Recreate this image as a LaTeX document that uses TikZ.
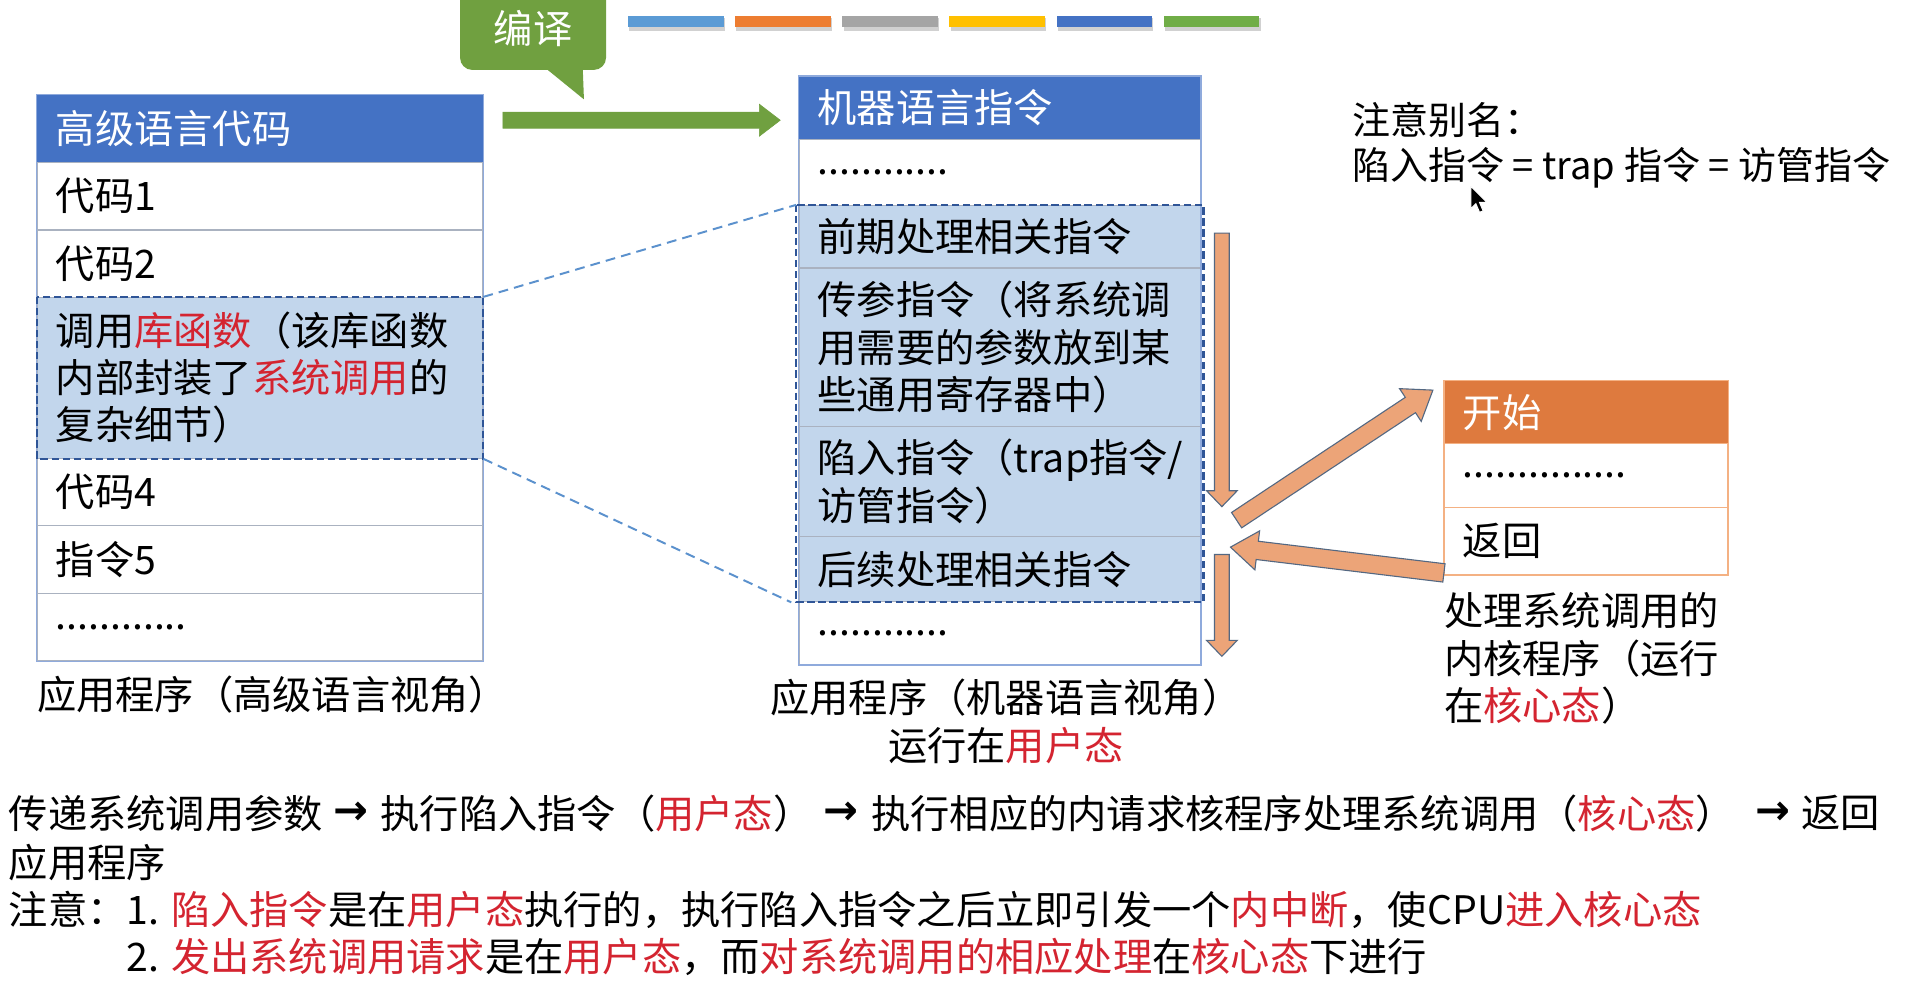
\documentclass[tikz,border=0pt]{standalone}
\usepackage{fontspec}
\setmainfont{Noto Sans CJK SC}
\newfontfamily\djv{DejaVu Sans}
\usetikzlibrary{calc}
\definecolor{hdrblue}{RGB}{68,114,196}
\definecolor{lblue}{RGB}{194,214,236}
\definecolor{dblue}{RGB}{47,85,151}
\definecolor{boxline}{RGB}{143,170,220}
\definecolor{sepline}{RGB}{170,178,192}
\definecolor{grn}{RGB}{112,160,64}
\definecolor{orh}{RGB}{222,122,62}
\definecolor{orline}{RGB}{244,177,131}
\definecolor{arrfill}{RGB}{236,164,120}
\definecolor{arrline}{RGB}{84,104,130}
\definecolor{redt}{RGB}{212,36,48}
\definecolor{lnk}{RGB}{91,145,205}
\definecolor{barA}{RGB}{91,155,213}
\definecolor{barB}{RGB}{237,125,49}
\definecolor{barC}{RGB}{165,165,165}
\definecolor{barD}{RGB}{255,192,0}
\definecolor{barE}{RGB}{68,114,196}
\definecolor{barF}{RGB}{112,173,71}
\newcommand\fs{\fontsize{32}{38.5}\selectfont}
\newcommand\fsb{\fontsize{31}{39}\selectfont}
\newcommand\rd[1]{\textcolor{redt}{#1}}
\newcommand\blkarrow[6]{%
  \path ($(#3)!#6!(#2)$) coordinate (bkh);
  \filldraw[#1] ($(#2)!#4!90:(#3)$) -- ($(bkh)!#4!90:(#3)$) -- ($(bkh)!#5!90:(#3)$) -- (#3)
     -- ($(bkh)!#5!-90:(#3)$) -- ($(bkh)!#4!-90:(#3)$) -- ($(#2)!#4!-90:(#3)$) -- cycle;}
\tikzset{
  cell/.style={rectangle, anchor=north west, draw=sepline, line width=1pt,
    inner xsep=15pt, inner ysep=0pt, align=left, font=\fs, text=black},
  hdr/.style={cell, fill=hdrblue, draw=hdrblue, text=white},
  ohdr/.style={cell, fill=orh, draw=orh, text=white},
  hl/.style={cell, fill=lblue},
  dashbox/.style={draw=dblue, line width=1.8pt, dash pattern=on 6pt off 3pt},
  link/.style={draw=lnk, line width=1.6pt, dash pattern=on 8pt off 5pt},
  txt/.style={inner sep=0pt, anchor=west, font=\fs, text=black},
  orarrow/.style={fill=arrfill, draw=arrline, line width=0.9pt},
  grarrow/.style={fill=grn, draw=grn, line width=0.5pt},
  arrowglyph/.style={inner sep=0pt, anchor=west, font=\djv\bfseries\fontsize{34}{36}\selectfont}
}
\begin{document}
\begin{tikzpicture}[x=1pt,y=-1pt]
\useasboundingbox[fill=white] (0,0) rectangle (1561,805);

% colour bars
\foreach \c [count=\i from 0] in {barA,barB,barC,barD,barE,barF}{
  \fill[black!18] (512+\i*87.3+1,15) rectangle ++(78,10);
  \fill[\c] (512+\i*87.3,13) rectangle ++(78,9);
}

% compile callout
\node[fill=grn, rounded corners=10pt, minimum width=119pt, minimum height=68pt,
      text=white, font=\fs, inner sep=0pt] (cmp) at (434.5,23) {编译};
\fill[grn] (444,55) -- (475,55) -- (476,81) -- cycle;
\coordinate (ga) at (410,98);
\coordinate (gb) at (636,98);
\blkarrow{grarrow}{ga}{gb}{6.5pt}{13pt}{17pt}

% left box
\node[hdr, minimum width=363pt, text width=333pt, minimum height=55pt] (Lh) at (30,77) {高级语言代码};
\node[cell, minimum width=363pt, text width=333pt, minimum height=55pt] (L1) at (30,132) {代码1};
\node[cell, minimum width=363pt, text width=333pt, minimum height=55pt] (L2) at (30,187) {代码2};
\node[hl, minimum width=363pt, text width=333pt, minimum height=131pt] (L3) at (30,242)
  {调用\rd{库函数}（该库函数\\内部封装了\rd{系统调用}的\\复杂细节）};
\node[cell, minimum width=363pt, text width=333pt, minimum height=55pt] (L4) at (30,373) {代码4};
\node[cell, minimum width=363pt, text width=333pt, minimum height=55pt] (L5) at (30,428) {指令5};
\node[cell, minimum width=363pt, text width=333pt, minimum height=55pt] (L6) at (30,483) {............};
\draw[boxline, line width=1pt] (Lh.north west) rectangle (L6.south east);
\draw[dashbox] (L3.north west) rectangle (L3.south east);
\node[txt] (capL) at (30,566) {应用程序（高级语言视角）};

% middle box
\node[hdr, minimum width=327pt, text width=297pt, minimum height=51pt] (Mh) at (651,62) {机器语言指令};
\node[cell, minimum width=327pt, text width=297pt, minimum height=54pt] (M0) at (651,113) {............};
\node[hl, minimum width=327pt, text width=297pt, minimum height=51pt] (M1) at (651,167) {前期处理相关指令};
\node[hl, minimum width=327pt, text width=297pt, minimum height=129pt] (M2) at (651,218)
  {传参指令（将系统调\\用需要的参数放到某\\些通用寄存器中）};
\node[hl, minimum width=327pt, text width=297pt, minimum height=90pt] (M3) at (651,347)
  {陷入指令（trap指令/\\访管指令）};
\node[hl, minimum width=327pt, text width=297pt, minimum height=53pt] (M4) at (651,437) {后续处理相关指令};
\node[cell, minimum width=327pt, text width=297pt, minimum height=51pt] (M5) at (651,490) {............};
\draw[boxline, line width=1pt] (Mh.north west) rectangle (M5.south east);
\draw[dashbox] ($(M1.north west)+(-2,0)$) rectangle ($(M4.south east)+(2,0)$);
\node[txt, anchor=center, align=center] (capM) at (820,588)
  {应用程序（机器语言视角）\\运行在\rd{用户态}};

% links between the two boxes
\draw[link] (L3.north east) -- ($(M1.north west)+(-2,0)$);
\draw[link] (L3.south east) -- ($(M4.south west)+(-6,0)$);

% right box
\node[ohdr, minimum width=231pt, text width=201pt, minimum height=51pt] (Rh) at (1177,310) {开始};
\node[cell, draw=orline, minimum width=231pt, text width=201pt, minimum height=52pt] (R1) at (1177,361) {...............};
\node[cell, draw=orline, minimum width=231pt, text width=201pt, minimum height=55pt] (R2) at (1177,413) {返回};
\draw[orline, line width=1pt] (Rh.north west) rectangle (R2.south east);
\node[txt, anchor=north west, align=left] (capR) at (1177,483)
  {处理系统调用的\\内核程序（运行\\在\rd{核心态}）};

% orange arrows
\coordinate (o1a) at (996,190);
\coordinate (o1b) at (996,413);
\coordinate (o2a) at (996,452);
\coordinate (o2b) at (996,535);
\coordinate (o3a) at (1008,424);
\coordinate (o3b) at (1168,318);
\coordinate (o4a) at (1177,467);
\coordinate (o4b) at (1003,446);
\blkarrow{orarrow}{o1a}{o1b}{6pt}{12.5pt}{13pt}
\blkarrow{orarrow}{o2a}{o2b}{6pt}{12.5pt}{13pt}
\blkarrow{orarrow}{o3a}{o3b}{7.5pt}{16pt}{22pt}
\blkarrow{orarrow}{o4a}{o4b}{7.5pt}{16pt}{22pt}

% alias note
\node[txt, font=\fsb] (al1) at (1102,98) {注意别名：};
\node[txt, font=\fsb] (al2) at (1102,137) {陷入指令 = trap 指令 = 访管指令};
% mouse cursor
\filldraw[fill=black, draw=white, line width=0.8pt]
  (1199,152) -- (1199,170) -- (1203,166) -- (1206,173) -- (1209,172) -- (1206,165) -- (1212,165) -- cycle;

% bottom text
\node[txt] (b1) at (7,663) {传递系统调用参数};
\node[arrowglyph] (a1) at (272,663) {→};
\node[txt] (b2) at (310,663) {执行陷入指令（\rd{用户态}）};
\node[arrowglyph] (a2) at (671,663) {→};
\node[txt] (b3) at (710,663) {执行相应的内请求核程序处理系统调用（\rd{核心态}）};
\node[arrowglyph] (a3) at (1431,663) {→};
\node[txt] (b4) at (1468,663) {返回};
\node[txt] (b5) at (7,703) {应用程序};
\node[txt] (b6) at (7,742) {注意：1. \rd{陷入指令}是在\rd{用户态}执行的，执行陷入指令之后立即引发一个\rd{内中断}，使CPU\rd{进入核心态}};
\node[txt] (b7) at (103,780) {2. \rd{发出系统调用请求}是在\rd{用户态}，而\rd{对系统调用的相应处理}在\rd{核心态}下进行};
\end{tikzpicture}
\end{document}
